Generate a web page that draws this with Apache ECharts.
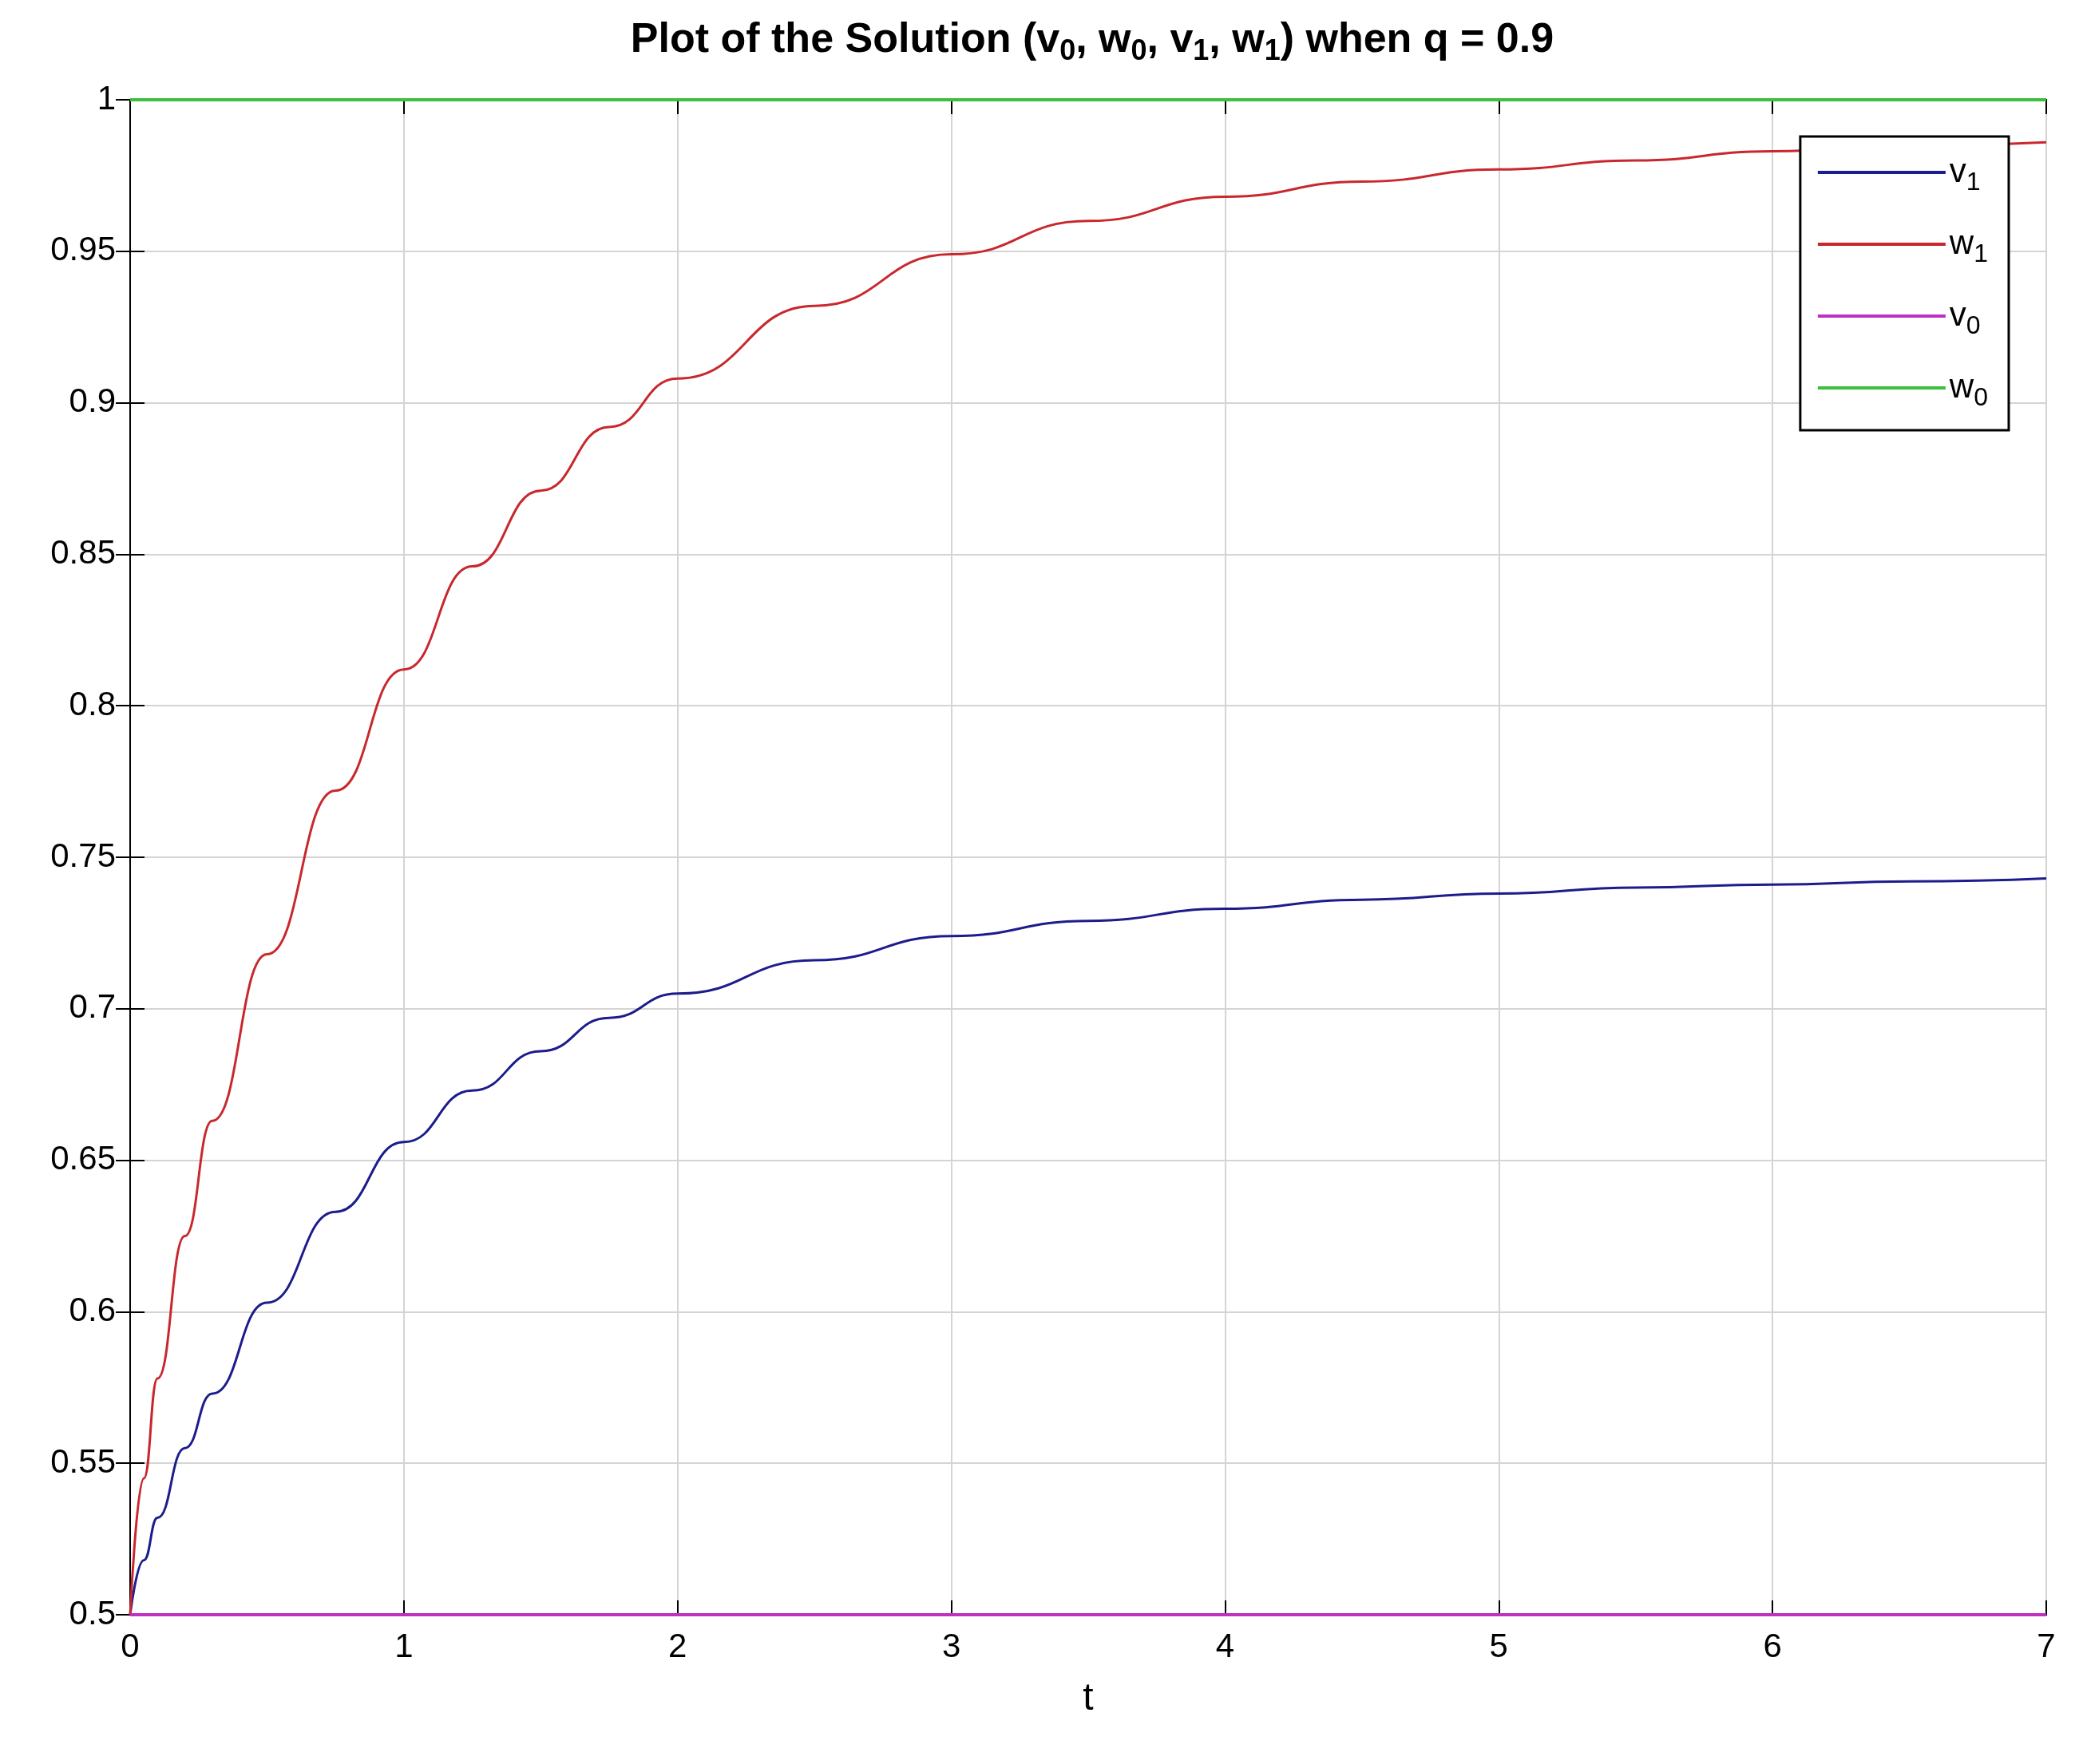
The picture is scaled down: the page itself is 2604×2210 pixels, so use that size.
<!DOCTYPE html>
<html><head><meta charset="utf-8">
<script src="https://cdn.jsdelivr.net/npm/echarts@6/dist/echarts.min.js"></script>
<style>html,body{margin:0;background:#fff}#chart{width:2604px;height:2210px}</style>
</head><body><div id="chart"></div>
<script>
var t = [0, 0.05, 0.1, 0.2, 0.3, 0.5, 0.75, 1, 1.25, 1.5, 1.75, 2, 2.5, 3, 3.5, 4, 4.5, 5, 5.5, 6, 6.5, 7];
var w1 = [0.5, 0.545, 0.578, 0.625, 0.663, 0.718, 0.772, 0.812, 0.846, 0.871, 0.892, 0.908, 0.932, 0.949, 0.960, 0.968, 0.973, 0.977, 0.980, 0.983, 0.985, 0.986];
var v1 = [0.5, 0.518, 0.532, 0.555, 0.573, 0.603, 0.633, 0.656, 0.673, 0.686, 0.697, 0.705, 0.716, 0.724, 0.729, 0.733, 0.736, 0.738, 0.740, 0.741, 0.742, 0.743];
var v0 = t.map(function () { return 0.5; });
var w0 = t.map(function () { return 1; });

function pairs(ys) { return t.map(function (x, i) { return [x, ys[i]]; }); }

var font = 'Liberation Sans';
var rich = {
  n: { fontSize: 42, fontFamily: font, color: '#000' },
  s: { fontSize: 32, fontFamily: font, color: '#000', padding: [26, 0, 0, 0] },
  tb: { fontSize: 52, fontWeight: 'bold', fontFamily: font, color: '#000' },
  ts: { fontSize: 36, fontWeight: 'bold', fontFamily: font, color: '#000', padding: [28, 0, 0, 0] }
};
var subName = { 'v1': '{n|v}{s|1}', 'w1': '{n|w}{s|1}', 'v0': '{n|v}{s|0}', 'w0': '{n|w}{s|0}' };

var axisCommon = {
  type: 'value',
  axisLine: { show: true, lineStyle: { color: '#000', width: 2 } },
  axisTick: { show: true, inside: true, length: 18, lineStyle: { color: '#000', width: 2 } },
  splitLine: { show: false }
};

var chart = echarts.init(document.getElementById('chart'));
chart.setOption({
  backgroundColor: '#fff',
  animation: false,
  title: {
    text: '{tb|Plot of the Solution (v}{ts|0}{tb|, w}{ts|0}{tb|, v}{ts|1}{tb|, w}{ts|1}{tb|) when q = 0.9}',
    left: 1363, top: 14, textAlign: 'center',
    textStyle: { rich: rich }
  },
  grid: { left: 163, right: 41, top: 125, bottom: 187, show: true, borderColor: '#000', borderWidth: 2 },
  legend: {
    right: 88, top: 171, orient: 'vertical',
    backgroundColor: '#fff', borderColor: '#000', borderWidth: 3,
    padding: [24, 26, 24, 22], itemGap: 40, itemWidth: 160, itemHeight: 4,
    icon: 'rect',
    data: ['v1', 'w1', 'v0', 'w0'],
    formatter: function (n) { return subName[n]; },
    textStyle: { rich: rich }
  },
  xAxis: [
    Object.assign({}, axisCommon, {
      min: 0, max: 7, interval: 1, name: 't', nameLocation: 'middle', nameGap: 82,
      nameTextStyle: { fontSize: 48, fontFamily: font, color: '#000' },
      axisLabel: { fontSize: 42, fontFamily: font, color: '#000', margin: 20 },
      splitLine: { show: true, lineStyle: { color: '#d4d4d4', width: 2 } }
    }),
    Object.assign({}, axisCommon, { min: 0, max: 7, interval: 1, position: 'top', axisLabel: { show: false } })
  ],
  yAxis: [
    Object.assign({}, axisCommon, {
      min: 0.5, max: 1, interval: 0.05,
      axisLabel: { fontSize: 42, fontFamily: font, color: '#000', margin: 18, formatter: function (v) { return String(+v.toFixed(2)); } },
      splitLine: { show: true, lineStyle: { color: '#d4d4d4', width: 2 } }
    }),
    Object.assign({}, axisCommon, { min: 0.5, max: 1, interval: 0.05, position: 'right', axisLabel: { show: false } })
  ],
  series: [
    { name: 'v1', type: 'line', smooth: true, smoothMonotone: 'x', symbol: 'none', data: pairs(v1), lineStyle: { color: '#1c1c8c', width: 3 }, itemStyle: { color: '#1c1c8c' } },
    { name: 'w1', type: 'line', smooth: true, smoothMonotone: 'x', symbol: 'none', data: pairs(w1), lineStyle: { color: '#c8282d', width: 3 }, itemStyle: { color: '#c8282d' } },
    { name: 'v0', type: 'line', symbol: 'none', data: pairs(v0), lineStyle: { color: '#c030c0', width: 4 }, itemStyle: { color: '#c030c0' } },
    { name: 'w0', type: 'line', symbol: 'none', data: pairs(w0), lineStyle: { color: '#3cc03c', width: 4 }, itemStyle: { color: '#3cc03c' } }
  ]
});
</script></body></html>
